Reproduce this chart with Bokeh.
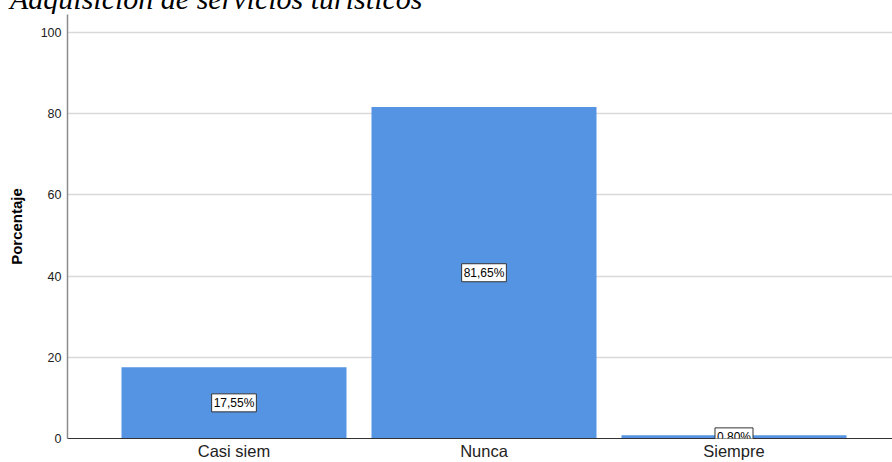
from bokeh.plotting import figure
from bokeh.models import Range1d, FixedTicker, Label, Div
from bokeh.layouts import column
from bokeh.embed import file_html
from bokeh.resources import INLINE

# data
title_text = "Adquisición de servicios turísticos"
categories = ["Casi siem", "Nunca", "Siempre"]
percentages = [17.55, 81.65, 0.80]
y_ticks = [0, 20, 40, 60, 80, 100]
y_label = "Porcentaje"

xs = list(range(len(categories)))

# title (cropped at the top, as in the source image)
title_div = Div(
    text=('<div style="position:relative; left:10px; top:-15.6px; '
          'font-family:\'Liberation Serif\'; font-style:italic; font-size:30px; '
          'line-height:30px; white-space:nowrap; color:black;">'
          + title_text + '</div>'),
    width=892, height=14, margin=0, styles={"overflow": "hidden"})

p = figure(width=892, height=448, output_backend="svg", toolbar_location=None,
           x_range=Range1d(-0.666, 2.634), y_range=Range1d(0, 104.43),
           min_border_left=67, min_border_right=0, min_border_top=0, min_border_bottom=24)
p.outline_line_color = None
p.background_fill_color = "white"
p.border_fill_color = "white"

p.vbar(x=xs, top=percentages, bottom=0, width=0.9, fill_color="#5594e3", line_color=None)

# axes
xa = p.xaxis[0]
xa.ticker = FixedTicker(ticks=xs)
xa.major_label_overrides = {i: c for i, c in zip(xs, categories)}
xa.major_tick_out = 0
xa.major_tick_in = 0
xa.minor_tick_out = 0
xa.minor_tick_in = 0
xa.axis_line_color = "#333333"
xa.axis_line_width = 1
xa.major_label_standoff = 3
xa.major_label_text_font = "Liberation Sans"
xa.major_label_text_font_size = "16.5px"
xa.major_label_text_color = "#222222"

ya = p.yaxis[0]
ya.ticker = FixedTicker(ticks=y_ticks)
ya.major_tick_out = 0
ya.major_tick_in = 0
ya.minor_tick_out = 0
ya.minor_tick_in = 0
ya.axis_line_color = "#8c8c8c"
ya.axis_line_width = 1.5
ya.major_label_standoff = 6
ya.major_label_text_font = "Liberation Sans"
ya.major_label_text_font_size = "12.5px"
ya.major_label_text_color = "#222222"
ya.axis_label = y_label
ya.axis_label_text_font = "Liberation Sans"
ya.axis_label_text_font_size = "15px"
ya.axis_label_text_font_style = "bold"
ya.axis_label_text_color = "black"
ya.axis_label_standoff = 13

p.xgrid.grid_line_color = None
p.ygrid.ticker = FixedTicker(ticks=y_ticks[1:])
p.ygrid.grid_line_color = "#d9d9d9"
p.ygrid.grid_line_width = 1.5

# value labels
for x, v in zip(xs, percentages):
    txt = f"{v:.2f}".replace(".", ",") + "%"
    p.add_layout(Label(x=x, y=v / 2, text=txt, text_align="center", text_baseline="middle",
                       text_font="Liberation Sans", text_font_size="12px", text_color="black",
                       background_fill_color="white", border_line_color="#333333",
                       border_line_width=1, padding=2))

layout = column(title_div, p, spacing=0)
open("out.html", "w").write(file_html(layout, INLINE))
